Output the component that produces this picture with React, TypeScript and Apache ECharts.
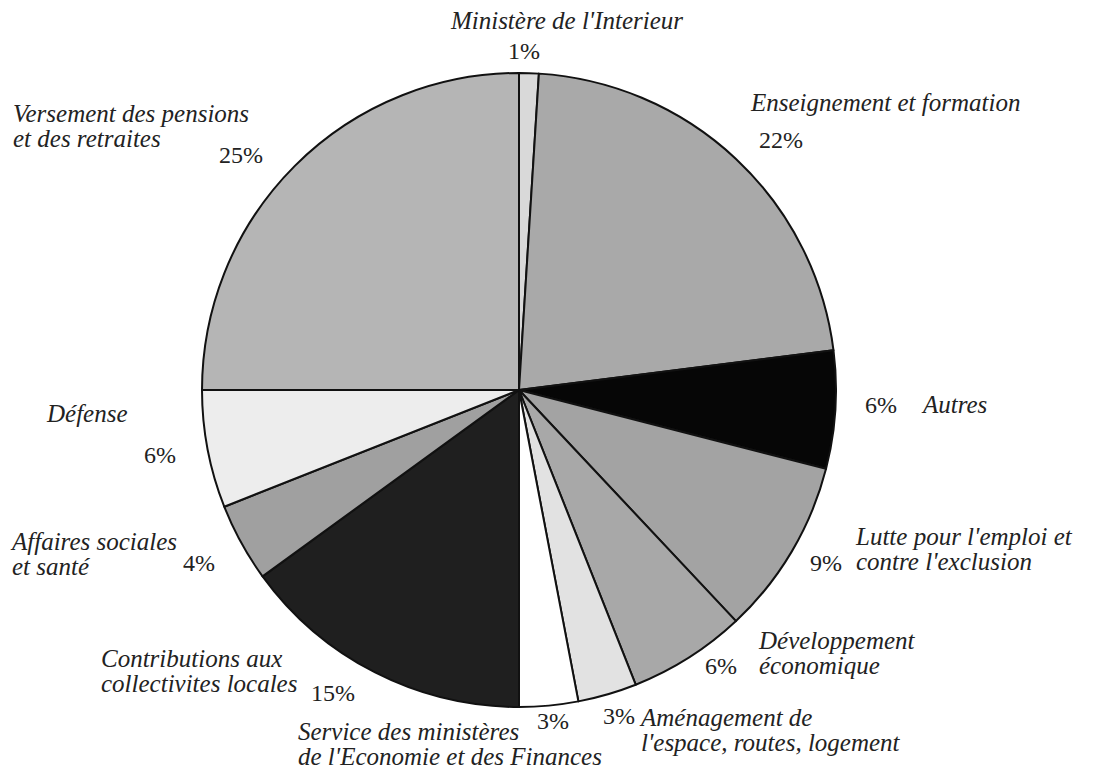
import React, { useEffect, useRef } from "react";
import * as echarts from "echarts";

// Slices clockwise from 12 o'clock
const names = [
  "Ministère de l'Interieur",
  "Enseignement et formation",
  "Autres",
  "Lutte pour l'emploi et\ncontre l'exclusion",
  "Développement\néconomique",
  "Aménagement de\nl'espace, routes, logement",
  "Service des ministères\nde l'Economie et des Finances",
  "Contributions aux\ncollectivites locales",
  "Affaires sociales\net santé",
  "Défense",
  "Versement des pensions\net des retraites",
];
const values = [1, 22, 6, 9, 6, 3, 3, 15, 4, 6, 25];
const colors = [
  "#d9d9d9", "#a9a9a9", "#060606", "#a3a3a3", "#a8a8a8", "#e2e2e2",
  "#ffffff", "#1f1f1f", "#a0a0a0", "#ededed", "#b5b5b5",
];

// label placement (layout only)
const nameX = [567, 751, 923, 856, 759, 641, 298, 101, 12, 47, 13];
const nameY = [20, 102, 404, 536, 640, 717, 731, 658, 541, 413, 113];
const nameAlign = ["center", "left", "left", "left", "left", "left", "left", "left", "left", "left", "left"];
const pctX = [524, 781, 881, 826, 721, 619, 553, 333, 199, 160, 241];
const pctY = [51, 140, 405, 563, 666, 716, 721, 693, 563, 455, 155];

const LH = 25;
const FONT = "'Liberation Serif', 'Times New Roman', Times, serif";

export default function App() {
  const ref = useRef<HTMLDivElement>(null);
  useEffect(() => {
    const chart = echarts.init(ref.current!, null, { renderer: "svg" });
    chart.setOption({
      animation: false,
      backgroundColor: "#ffffff",
      series: [
        {
          type: "pie",
          center: [519, 390],
          radius: 317,
          startAngle: 90,
          clockwise: true,
          avoidLabelOverlap: false,
          emphasis: { disabled: true },
          itemStyle: { borderColor: "#111111", borderWidth: 2 },
          label: {
            show: true,
            position: "outside",
            formatter: "{c}%",
            fontFamily: FONT,
            fontSize: 24,
            color: "#222222",
          },
          labelLine: { show: false },
          labelLayout: (p: any) => ({
            x: pctX[p.dataIndex],
            y: pctY[p.dataIndex],
            align: "center",
            verticalAlign: "middle",
          }),
          data: names.map((n, i) => ({
            name: n,
            value: values[i],
            itemStyle: { color: colors[i] },
          })),
        },
      ],
      graphic: names.map((n, i) => ({
        type: "text",
        x: nameX[i],
        y: nameY[i] - LH / 2,
        silent: true,
        style: {
          text: n,
          fontFamily: FONT,
          fontStyle: "italic",
          fontSize: 25,
          lineHeight: LH,
          fill: "#222222",
          align: nameAlign[i],
          verticalAlign: "top",
        },
      })),
    });
    return () => chart.dispose();
  }, []);
  return (
    <div
      ref={ref}
      style={{ position: "fixed", left: 0, top: 0, width: 1111, height: 771 }}
    />
  );
}
